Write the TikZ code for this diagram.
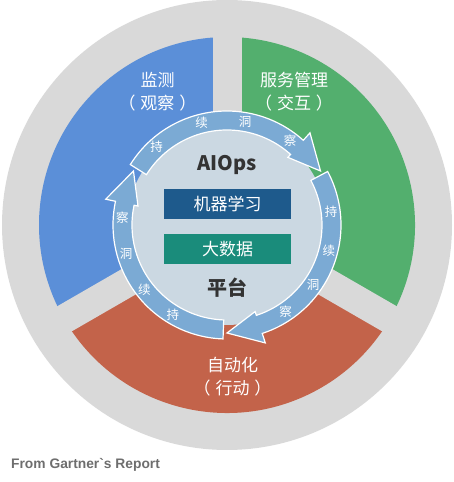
\documentclass[tikz,border=0pt]{standalone}
\usepackage{fontspec}
\setmainfont{Noto Sans CJK SC}
\newfontfamily\footfont{Liberation Sans}

\definecolor{ringgrey}{HTML}{D9D9D9}
\definecolor{monblue}{HTML}{5B8FD8}
\definecolor{servgreen}{HTML}{53AF6E}
\definecolor{autored}{HTML}{C3634A}
\definecolor{cycleblue}{HTML}{7BAAD4}
\definecolor{coregrey}{HTML}{CBD8E2}
\definecolor{mlblue}{HTML}{1E5A8C}
\definecolor{bdteal}{HTML}{1A8C7B}
\definecolor{darktext}{HTML}{333333}
\definecolor{footgrey}{HTML}{6E6E6E}

\begin{document}
\begin{tikzpicture}[x=1pt,y=1pt]
        \tikzstyle{every node}=[inner sep=0pt,text=white]
        \tikzstyle{gapbar}=[draw=ringgrey,line width=29pt]
        \tikzstyle{cyclearrow}=[fill=cycleblue,draw=white,line width=1.2pt,line join=miter]
        \tikzstyle{cyclechar}=[font=\fontsize{12.5}{12.5}\selectfont]
        \tikzstyle{sectorlabel}=[align=center,font=\fontsize{17}{23}\selectfont]
        \tikzstyle{databox}=[minimum width=127pt,minimum height=30pt,font=\fontsize{17}{17}\selectfont]
        \useasboundingbox (0,0) rectangle (454,482);
        \coordinate (c) at (227,257);

        % grey disc and the three sectors
        \fill[ringgrey] (c) circle (225);
        \fill[monblue] (c) -- ++(90:188) arc[start angle=90,end angle=210,radius=188] -- cycle;
        \fill[servgreen] (c) -- ++(-30:188) arc[start angle=-30,end angle=90,radius=188] -- cycle;
        \fill[autored] (c) -- ++(210:188) arc[start angle=210,end angle=330,radius=188] -- cycle;
        \foreach \a in {90,210,330}
            \draw[gapbar] (c) -- ++(\a:200);

        % core
        \fill[coregrey] (c) circle (100);

        % cycle arrows (tail angle)
        \foreach \t in {-92,28,148} {
            \pgfmathsetmacro\b{\t-100}
            \pgfmathsetmacro\p{\t-118}
            \draw[cyclearrow,shift={(c)}] (\t:114) arc[start angle=\t,end angle=\b,radius=114]
                -- (\b:124) -- (\p:108) -- (\b:91) -- (\b:95)
                arc[start angle=\b,end angle=\t,radius=95] -- cycle;
        }
        \foreach \a/\ch [count=\i] in {132/持,104/续,80/洞,53/察,7/持,-14/续,-35/洞,-56/察,-121/持,-142/续,-164/洞,-184/察}
            \node[cyclechar] (ch\i) at ([shift={(\a:105)}]c) {\ch};

        % sector labels
        \node[sectorlabel] (monitor) at (157.5,390) {监测\\（\hspace{5pt}观察\hspace{5pt}）};
        \node[sectorlabel] (service) at (294,390) {服务管理\\（\hspace{5pt}交互\hspace{5pt}）};
        \node[sectorlabel] (auto) at (232.5,105) {自动化\\（\hspace{5pt}行动\hspace{5pt}）};

        % platform
        \node[text=darktext,font=\bfseries\fontsize{20}{20}\selectfont] (aiops) at (227,317) {AIOps};
        \node[databox,fill=mlblue] (ml) at (227.5,278) {机器学习};
        \node[databox,fill=bdteal] (bigdata) at (227.5,233) {大数据};
        \node[text=darktext,font=\bfseries\fontsize{20}{20}\selectfont] (platform) at (227,194) {平台};

        % source
        \node[anchor=west,text=footgrey,font=\footfont\bfseries\fontsize{13.8}{13.8}\selectfont] (source) at (11,17) {From Gartner`s Report};
\end{tikzpicture}
\end{document}
